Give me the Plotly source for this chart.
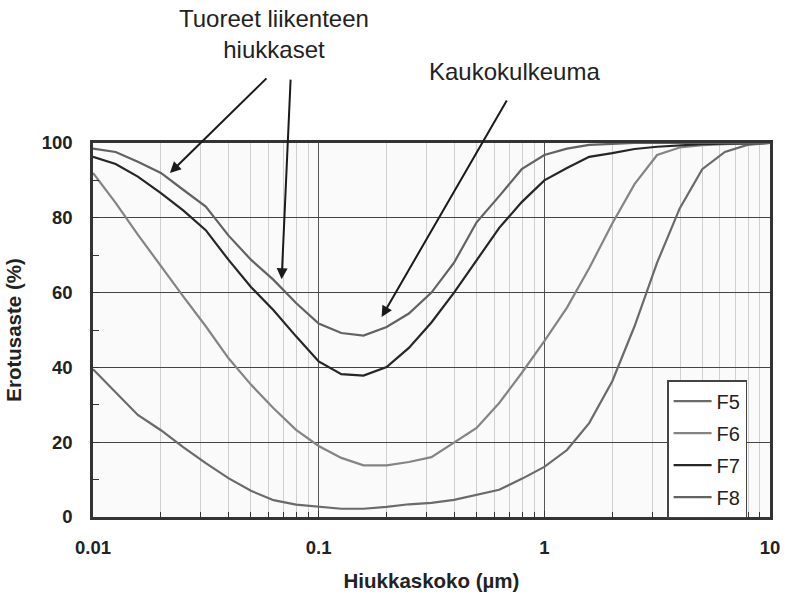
import plotly.graph_objects as go

particle_size_um = [0.01, 0.0126, 0.0158, 0.02, 0.0251, 0.0316, 0.0398, 0.0501, 0.0631, 0.0794,
                    0.1, 0.126, 0.158, 0.2, 0.251, 0.316, 0.398, 0.501, 0.631, 0.794,
                    1.0, 1.26, 1.58, 2.0, 2.51, 3.16, 3.98, 5.01, 6.31, 7.94, 10.0]

F5 = [39.5, 33.2, 27.3, 23.2, 18.7, 14.4, 10.4, 7.0, 4.5, 3.3,
      2.7, 2.2, 2.2, 2.7, 3.4, 3.8, 4.6, 5.9, 7.3, 10.2,
      13.4, 17.9, 25.1, 36.3, 51.0, 68.0, 82.5, 93.0, 97.6, 99.5, 100.0]
F6 = [92.0, 84.0, 75.5, 67.0, 59.0, 51.0, 42.5, 35.4, 29.1, 23.3,
      19.0, 15.8, 13.8, 13.8, 14.7, 16.0, 20.0, 23.8, 30.5, 38.5,
      47.0, 56.0, 66.5, 78.5, 89.0, 96.8, 98.8, 99.4, 99.7, 99.9, 100.0]
F7 = [96.3, 94.4, 91.0, 86.6, 82.0, 76.7, 68.8, 61.5, 55.3, 48.3,
      41.6, 38.2, 37.8, 40.1, 45.2, 52.0, 60.0, 68.8, 77.3, 84.2,
      90.0, 93.3, 96.3, 97.3, 98.4, 99.0, 99.4, 99.7, 99.8, 99.9, 100.0]
F8 = [98.5, 97.6, 95.0, 92.0, 87.5, 83.0, 75.3, 68.8, 63.4, 57.2,
      51.7, 49.2, 48.5, 50.8, 54.4, 60.0, 68.0, 78.8, 85.8, 93.0,
      96.8, 98.5, 99.5, 99.8, 100.0, 100.0, 100.0, 100.0, 100.0, 100.0, 100.0]

series = [("F5", F5, "#6a6a6a"), ("F6", F6, "#848484"), ("F7", F7, "#262626"), ("F8", F8, "#626262")]

x_major = [0.01, 0.1, 1, 10]
x_major_labels = ["0.01", "0.1", "1", "10"]
x_minor = [m * d for d in (0.01, 0.1, 1) for m in range(2, 10)]
y_major = [0, 20, 40, 60, 80, 100]
y_minor = [10, 30, 50, 70, 90]

FONT = "Liberation Sans, Arial, sans-serif"

fig = go.Figure()
for name, vals, col in series:
    fig.add_trace(go.Scatter(x=particle_size_um, y=vals, mode="lines", name=name,
                             legendgroup=name,
                             line=dict(color=col, width=2.2)))

fig.update_layout(
    width=786, height=598,
    margin=dict(l=93, r=16, t=143, b=81),
    paper_bgcolor="white",
    plot_bgcolor="#fafafa",
    font=dict(family=FONT, size=20, color="#222"),
    showlegend=True,
    legend=dict(x=0.848, y=0.366, xanchor="left", yanchor="top",
                bgcolor="white", bordercolor="#444", borderwidth=1.5,
                font=dict(size=20, color="#222"), tracegroupgap=3,
                itemwidth=38),
    xaxis=dict(type="log", range=[-2, 1], automargin=False,
               tickmode="array", tickvals=x_major, ticktext=x_major_labels,
               ticks="inside", ticklen=6, tickcolor="#333",
               tickfont=dict(size=18.5, family=FONT, color="#222", weight="bold"),
               ticklabelstandoff=12, ticklabeloverflow="allow",
               showgrid=True, gridcolor="#555", gridwidth=1,
               showline=True, linecolor="#333", linewidth=2.5, mirror=True,
               minor=dict(tickmode="array", tickvals=x_minor, ticks="inside", ticklen=5,
                          tickcolor="#333", showgrid=True, gridcolor="#cfcfcf", gridwidth=1),
               title=dict(text="<b>Hiukkaskoko (µm)</b>", font=dict(size=20.5, family=FONT, color="#222"),
                          standoff=17),
               zeroline=False),
    yaxis=dict(range=[0, 100], automargin=False,
               tickmode="array", tickvals=y_major,
               ticks="inside", ticklen=6, tickcolor="#333",
               tickfont=dict(size=18.5, family=FONT, color="#222", weight="bold"),
               ticklabelstandoff=14,
               showgrid=True, gridcolor="#444", gridwidth=1,
               showline=True, linecolor="#333", linewidth=2.5, mirror=True,
               minor=dict(tickmode="array", tickvals=y_minor, ticks="inside", ticklen=6,
                          tickcolor="#333", showgrid=False),
               title=dict(text="<b>Erotusaste (%)</b>", font=dict(size=20.5, family=FONT, color="#222"),
                          standoff=15),
               zeroline=False),
)

arrow_style = dict(showarrow=True, arrowhead=2, arrowsize=1.1, arrowwidth=2, arrowcolor="#1a1a1a",
                   text="", axref="pixel", ayref="pixel")
fig.add_annotation(x=-1.659, y=92.0, ax=98, ay=-96, **arrow_style)
fig.add_annotation(x=-1.164, y=63.6, ax=9, ay=-201, **arrow_style)
fig.add_annotation(x=-0.721, y=53.5, ax=126, ay=-218, **arrow_style)

fig.add_annotation(xref="paper", yref="paper", x=0.267, y=1.292, xanchor="center", yanchor="middle",
                   text="Tuoreet liikenteen<br>hiukkaset", showarrow=False,
                   font=dict(size=24, family=FONT, color="#222"))
fig.add_annotation(xref="paper", yref="paper", x=0.4934, y=1.1925, xanchor="left", yanchor="middle",
                   text="Kaukokulkeuma", showarrow=False,
                   font=dict(size=24, family=FONT, color="#222"))

# remove the default 8px page margin so the 786x598 figure fills the window exactly
fig.write_html("out.html", config={"displayModeBar": False},
               post_script="document.body.style.margin='0';")
